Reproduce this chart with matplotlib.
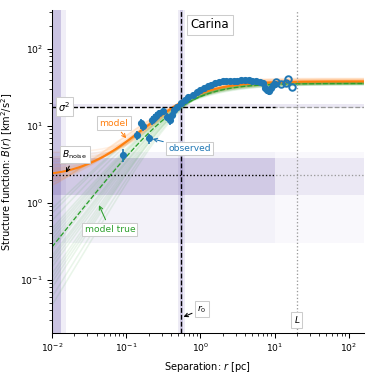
import numpy as np
import matplotlib

matplotlib.use("Agg")
import matplotlib.pyplot as plt

# observed structure function (filled: used in fit, open: beyond fit range)
r_obs = [0.092, 0.139, 0.158, 0.171, 0.200, 0.222, 0.238, 0.254, 0.280, 0.312,
         0.355, 0.390, 0.410, 0.440, 0.490, 0.540, 0.620, 0.690, 0.800, 0.890,
         1.00, 1.12, 1.26, 1.41, 1.58, 1.78, 2.00, 2.24, 2.51, 2.82,
         3.16, 3.55, 3.98, 4.47, 5.01, 5.62, 6.31, 7.08, 7.50, 7.94,
         8.40, 8.91, 9.40, 10.0]
B_obs = [4.2, 7.6, 10.8, 10.0, 6.9, 12.0, 12.6, 13.5, 14.6, 15.8,
         13.2, 12.0, 13.9, 16.1, 17.8, 19.7, 21.8, 23.6, 25.3, 27.5,
         29.3, 31.0, 32.8, 34.5, 36.0, 37.0, 37.8, 38.2, 38.3, 38.5,
         38.9, 39.3, 39.4, 39.0, 38.7, 38.2, 37.5, 36.0, 31.0, 29.5,
         28.5, 31.5, 33.5, 35.0]
B_err = [0.8, 1.1, 1.6, 1.5, 1.0, 1.6, 1.5, 1.5, 1.4, 1.4,
         1.6, 1.6, 1.4, 1.3, 1.1, 1.0, 0.9, 0.8, 0.8, 0.7,
         0.7, 0.6, 0.6, 0.6, 0.6, 0.6, 0.6, 0.6, 0.6, 0.7,
         0.7, 0.8, 0.8, 0.9, 1.0, 1.0, 1.2, 1.5, 3.0, 3.5,
         3.5, 3.0, 2.5, 2.0]
r_out = [10.5, 12.3, 14.1, 15.4, 17.1]
B_out = [37.6, 35.1, 35.9, 41.1, 32.4]

# best-fit parameters
sig2 = 17.8
r0 = 0.55
m = 1.22
noise = 2.3
s0 = 0.011
L = 20.0

# posterior samples (r0, sig2, m, noise)
samp_r0 = [0.48, 0.52, 0.55, 0.58, 0.62, 0.50, 0.57, 0.60, 0.53, 0.46,
           0.65, 0.56, 0.51, 0.59, 0.54, 0.49, 0.63, 0.57, 0.52, 0.61]
samp_sig2 = [17.4, 17.9, 18.2, 17.6, 18.4, 17.3, 18.0, 18.3, 17.7, 17.2,
             18.5, 17.8, 17.5, 18.1, 17.9, 17.3, 18.4, 18.0, 17.6, 18.2]
samp_m = [1.05, 1.15, 1.25, 1.35, 1.45, 1.10, 1.30, 1.50, 1.20, 1.00,
          1.60, 1.28, 1.18, 1.40, 1.22, 0.95, 1.55, 1.33, 1.12, 1.42]
samp_noise = [1.6, 2.0, 2.3, 2.8, 3.4, 1.8, 2.6, 3.9, 2.1, 1.4,
              4.5, 2.5, 1.9, 3.1, 2.2, 1.3, 3.7, 2.7, 1.7, 3.0]

# noise bands
noise_inner = (1.27, 3.8)
noise_outer = (0.3, 4.6)


def bfunc_true(r, r0, sig2, m):
    return 2 * sig2 / (1 + (r0 / r) ** m)


def bfunc_model(r, r0, sig2, m, noise, s0):
    return bfunc_true(r, r0, sig2, m) / (1 + (s0 / r) ** 2) + noise


purple = (0.45, 0.38, 0.70)
xmin, xmax = 0.01, 160
rgrid = np.logspace(np.log10(xmin), np.log10(xmax), 300)
rfit = max(r_obs)

fig = plt.figure(figsize=(4, 4), dpi=93.5)
ax = fig.add_axes([0.139, 0.110, 0.834, 0.863])

# shaded bands
ax.axhspan(*noise_outer, color=purple, alpha=0.04, lw=0)
ax.axhspan(*noise_inner, color=purple, alpha=0.10, lw=0)
ax.fill_between([xmin, rfit], *noise_outer, color=purple, alpha=0.04, lw=0)
ax.fill_between([xmin, rfit], *noise_inner, color=purple, alpha=0.18, lw=0)
ax.axvspan(0.0098, 0.0153, color=purple, alpha=0.10, lw=0)
ax.axvspan(0.0098, 0.0132, color=purple, alpha=0.30, lw=0)
ax.axvspan(0.50, 0.62, color=purple, alpha=0.12, lw=0)
ax.axvspan(0.53, 0.585, color=purple, alpha=0.25, lw=0)
ax.axhspan(17.2, 19.2, color=purple, alpha=0.15, lw=0)

# posterior samples
for p_r0, p_s2, p_m, p_n in zip(samp_r0, samp_sig2, samp_m, samp_noise):
    ax.plot(rgrid, bfunc_true(rgrid, p_r0, p_s2, p_m), color="tab:green", alpha=0.1, lw=1.2)
    ax.plot(rgrid, bfunc_model(rgrid, p_r0, p_s2, p_m, p_n, s0), color="tab:orange", alpha=0.1, lw=1.2)

ax.plot(rgrid, bfunc_model(rgrid, r0, sig2, m, noise, s0), color="tab:orange", lw=1.6)
ax.plot(rgrid, bfunc_true(rgrid, r0, sig2, m), color="tab:green", lw=1, ls="--")

# reference lines
ax.hlines(sig2, xmin, rfit, color="k", ls="--", lw=1)
ax.axhline(sig2, color="0.6", ls="--", lw=1, zorder=1)
ax.hlines(noise, xmin, rfit, color="k", ls=":", lw=1)
ax.axhline(noise, color="0.6", ls=":", lw=1, zorder=1)
ax.axvline(r0, color="k", ls="--", lw=1)
ax.axvline(L, color="0.6", ls=":", lw=1)

# data
ax.errorbar(r_obs, B_obs, yerr=B_err, fmt="o", color="tab:blue", ms=4.5, elinewidth=1.3, zorder=5)
ax.plot(r_out, B_out, "o", mfc="none", mec="tab:blue", mew=1.5, ms=5, zorder=5)

ax.set_xscale("log")
ax.set_yscale("log")
ax.set_xlim(xmin, xmax)
ax.set_ylim(0.0204, 320)
ax.spines["top"].set_visible(False)
ax.spines["right"].set_visible(False)
ax.tick_params(labelsize=7)
ax.set_xlabel("Separation: $r$ [pc]", fontsize=7.5)
ax.set_ylabel("Structure function: $B(r)$ [km$^2$/s$^2$]", fontsize=7.5)

box = dict(boxstyle="square,pad=0.25", fc="white", ec="0.8", lw=0.8)
arrow = dict(arrowstyle="->", lw=0.8)
ax.text(0.445, 0.975, "Carina", transform=ax.transAxes, fontsize=9, ha="left", va="top",
        bbox=dict(boxstyle="square,pad=0.3", fc="white", ec="0.8", lw=0.8))
ax.text(0.0147, sig2, r"$\sigma^2$", fontsize=7.5, ha="center", va="center", bbox=box)
ax.annotate(r"$B_\mathrm{noise}$", xy=(0.0149, noise), xytext=(0.0204, 4.2), fontsize=7,
            ha="center", va="center", bbox=box, arrowprops=dict(arrow, color="k"))
ax.annotate("model", xy=(0.105, 6.5), xytext=(0.0684, 10.9), fontsize=7, color="tab:orange",
            ha="center", va="center", bbox=box, arrowprops=dict(arrow, color="tab:orange"))
ax.annotate("observed", xy=(0.21, 6.9), xytext=(0.72, 5.1), fontsize=7, color="tab:blue",
            ha="center", va="center", bbox=box, arrowprops=dict(arrow, color="tab:blue"))
ax.annotate("model true", xy=(0.0416, 1.0), xytext=(0.0603, 0.453), fontsize=7, color="tab:green",
            ha="center", va="center", bbox=box, arrowprops=dict(arrow, color="tab:green"))
ax.annotate(r"$r_0$", xy=(r0, 0.032), xytext=(1.045, 0.0414), fontsize=7,
            ha="center", va="center", bbox=box, arrowprops=dict(arrow, color="k"))
ax.text(L, 0.030, r"$L$", fontsize=7, ha="center", va="center", bbox=box)

fig.savefig("out.png", dpi=93.5)
plt.close(fig)
